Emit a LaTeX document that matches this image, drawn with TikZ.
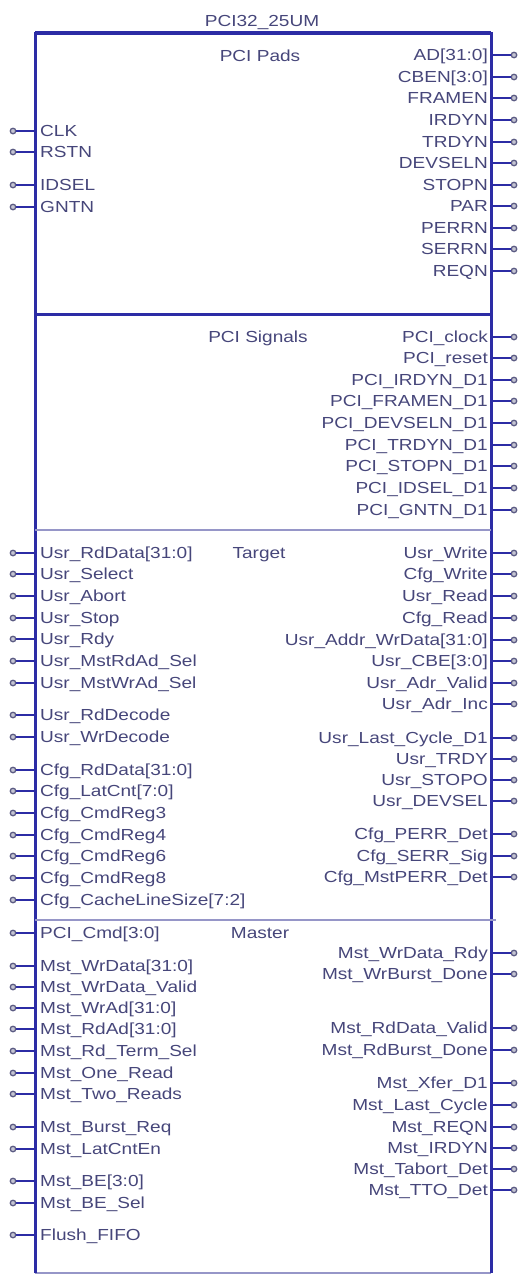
\documentclass[tikz,border=0pt]{standalone}
\usepackage{fontspec}
\setmainfont{Liberation Sans}[FakeStretch=1.19]
\definecolor{boxblue}{RGB}{44,44,165}
\definecolor{txtc}{RGB}{70,70,122}
\definecolor{lightdiv}{RGB}{150,150,200}
\definecolor{pinc}{RGB}{90,90,130}
\tikzset{
  lbl/.style={font=\fontsize{16}{19}\selectfont, text=txtc, inner sep=0pt, text height=11.5pt, text depth=0pt},
  sig/.style={draw=boxblue, line width=1.4pt},
  bus/.style={draw=boxblue, line width=2.8pt},
  term/.style={circle, draw=pinc, fill=pinc!35, line width=1.3pt, minimum size=5.5pt, inner sep=0pt},
  edge/.style={draw=boxblue, line width=3pt},
}
\newcommand\lpin[4]{%
  \node[lbl,anchor=west] (#1) at (40,#2) {#3};
  \node[term] (#1o) at (13,#2) {};
  \draw[#4] (#1o) -- (#1o -| box.west);
}
\newcommand\rpin[4]{%
  \node[lbl,anchor=east] (#1) at (488,#2) {#3};
  \node[term] (#1o) at (514,#2) {};
  \draw[#4] (#1o -| box.east) -- (#1o);
}
\begin{document}
\begin{tikzpicture}[x=1pt,y=-1pt]
\useasboundingbox (0,0) rectangle (521,1275);
\node[minimum width=456pt, minimum height=1240pt, anchor=north west, inner sep=0pt, outer sep=0pt] (box) at (35,33) {};
\draw[lightdiv, line width=1.5pt] (box.south west) -- (box.south east);
\draw[edge] (box.south west) -- (box.north west) -- (box.north east) -- (box.south east);
\draw[boxblue, line width=3.4pt] (box.north west) -- (box.north east);
% dividers
\draw[edge] (35,314) -- (491,314);
\draw[lightdiv, line width=2.6pt] (35,530) -- (491,530);
\draw[lightdiv, line width=2pt] (35,920) -- (496,920);
% titles
\node[lbl] (title) at (262,21) {PCI32\_25UM};
\node[lbl] (tpads) at (260,56) {PCI Pads};
\node[lbl] (tsig) at (258,337) {PCI Signals};
\node[lbl] (ttgt) at (259,553) {Target};
\node[lbl] (tmst) at (260,933) {Master};
% PCI Pads
\lpin{clk}{131}{CLK}{sig}
\lpin{rstn}{152}{RSTN}{sig}
\lpin{idsel}{185}{IDSEL}{sig}
\lpin{gntn}{207}{GNTN}{sig}
\rpin{ad}{55}{AD[31:0]}{bus}
\rpin{cben}{77}{CBEN[3:0]}{bus}
\rpin{framen}{98}{FRAMEN}{sig}
\rpin{irdyn}{120}{IRDYN}{sig}
\rpin{trdyn}{142}{TRDYN}{sig}
\rpin{devseln}{163}{DEVSELN}{sig}
\rpin{stopn}{185}{STOPN}{sig}
\rpin{par}{206}{PAR}{sig}
\rpin{perrn}{228}{PERRN}{sig}
\rpin{serrn}{249}{SERRN}{sig}
\rpin{reqn}{271}{REQN}{sig}
% PCI Signals
\rpin{pclk}{337}{PCI\_clock}{sig}
\rpin{prst}{358}{PCI\_reset}{sig}
\rpin{pirdy}{380}{PCI\_IRDYN\_D1}{sig}
\rpin{pframe}{401}{PCI\_FRAMEN\_D1}{sig}
\rpin{pdevsel}{423}{PCI\_DEVSELN\_D1}{sig}
\rpin{ptrdy}{445}{PCI\_TRDYN\_D1}{sig}
\rpin{pstop}{466}{PCI\_STOPN\_D1}{sig}
\rpin{pidsel}{488}{PCI\_IDSEL\_D1}{sig}
\rpin{pgnt}{510}{PCI\_GNTN\_D1}{sig}
% Target left
\lpin{urddata}{553}{Usr\_RdData[31:0]}{bus}
\lpin{usel}{574}{Usr\_Select}{sig}
\lpin{uabort}{596}{Usr\_Abort}{sig}
\lpin{ustop}{618}{Usr\_Stop}{sig}
\lpin{urdy}{639}{Usr\_Rdy}{sig}
\lpin{umrd}{661}{Usr\_MstRdAd\_Sel}{sig}
\lpin{umwr}{683}{Usr\_MstWrAd\_Sel}{sig}
\lpin{urddec}{715}{Usr\_RdDecode}{sig}
\lpin{uwrdec}{737}{Usr\_WrDecode}{sig}
\lpin{crddata}{770}{Cfg\_RdData[31:0]}{bus}
\lpin{clat}{791}{Cfg\_LatCnt[7:0]}{bus}
\lpin{ccmd3}{813}{Cfg\_CmdReg3}{sig}
\lpin{ccmd4}{835}{Cfg\_CmdReg4}{sig}
\lpin{ccmd6}{856}{Cfg\_CmdReg6}{sig}
\lpin{ccmd8}{878}{Cfg\_CmdReg8}{sig}
\lpin{ccache}{900}{Cfg\_CacheLineSize[7:2]}{sig}
% Target right
\rpin{uwrite}{553}{Usr\_Write}{sig}
\rpin{cwrite}{574}{Cfg\_Write}{sig}
\rpin{uread}{596}{Usr\_Read}{sig}
\rpin{cread}{618}{Cfg\_Read}{sig}
\rpin{uaddr}{640}{Usr\_Addr\_WrData[31:0]}{bus}
\rpin{ucbe}{661}{Usr\_CBE[3:0]}{bus}
\rpin{uadrv}{683}{Usr\_Adr\_Valid}{sig}
\rpin{uadri}{704}{Usr\_Adr\_Inc}{sig}
\rpin{ulast}{738}{Usr\_Last\_Cycle\_D1}{sig}
\rpin{utrdy}{759}{Usr\_TRDY}{sig}
\rpin{ustopo}{780}{Usr\_STOPO}{sig}
\rpin{udevsel}{801}{Usr\_DEVSEL}{sig}
\rpin{cperr}{834}{Cfg\_PERR\_Det}{sig}
\rpin{cserr}{856}{Cfg\_SERR\_Sig}{sig}
\rpin{cmperr}{877}{Cfg\_MstPERR\_Det}{sig}
% Master left
\lpin{pcmd}{933}{PCI\_Cmd[3:0]}{bus}
\lpin{mwrdata}{966}{Mst\_WrData[31:0]}{bus}
\lpin{mwrvalid}{987}{Mst\_WrData\_Valid}{sig}
\lpin{mwrad}{1008}{Mst\_WrAd[31:0]}{bus}
\lpin{mrdad}{1029}{Mst\_RdAd[31:0]}{bus}
\lpin{mrdterm}{1051}{Mst\_Rd\_Term\_Sel}{sig}
\lpin{mone}{1073}{Mst\_One\_Read}{sig}
\lpin{mtwo}{1094}{Mst\_Two\_Reads}{sig}
\lpin{mburst}{1127}{Mst\_Burst\_Req}{sig}
\lpin{mlat}{1149}{Mst\_LatCntEn}{sig}
\lpin{mbe}{1181}{Mst\_BE[3:0]}{bus}
\lpin{mbesel}{1203}{Mst\_BE\_Sel}{sig}
\lpin{flush}{1235}{Flush\_FIFO}{sig}
% Master right
\rpin{mwrrdy}{953}{Mst\_WrData\_Rdy}{sig}
\rpin{mwrdone}{974}{Mst\_WrBurst\_Done}{sig}
\rpin{mrdvalid}{1028}{Mst\_RdData\_Valid}{sig}
\rpin{mrddone}{1050}{Mst\_RdBurst\_Done}{sig}
\rpin{mxfer}{1083}{Mst\_Xfer\_D1}{sig}
\rpin{mlast}{1105}{Mst\_Last\_Cycle}{sig}
\rpin{mreqn}{1127}{Mst\_REQN}{sig}
\rpin{mirdyn}{1148}{Mst\_IRDYN}{sig}
\rpin{mtabort}{1169}{Mst\_Tabort\_Det}{sig}
\rpin{mtto}{1190}{Mst\_TTO\_Det}{sig}
\end{tikzpicture}
\end{document}
